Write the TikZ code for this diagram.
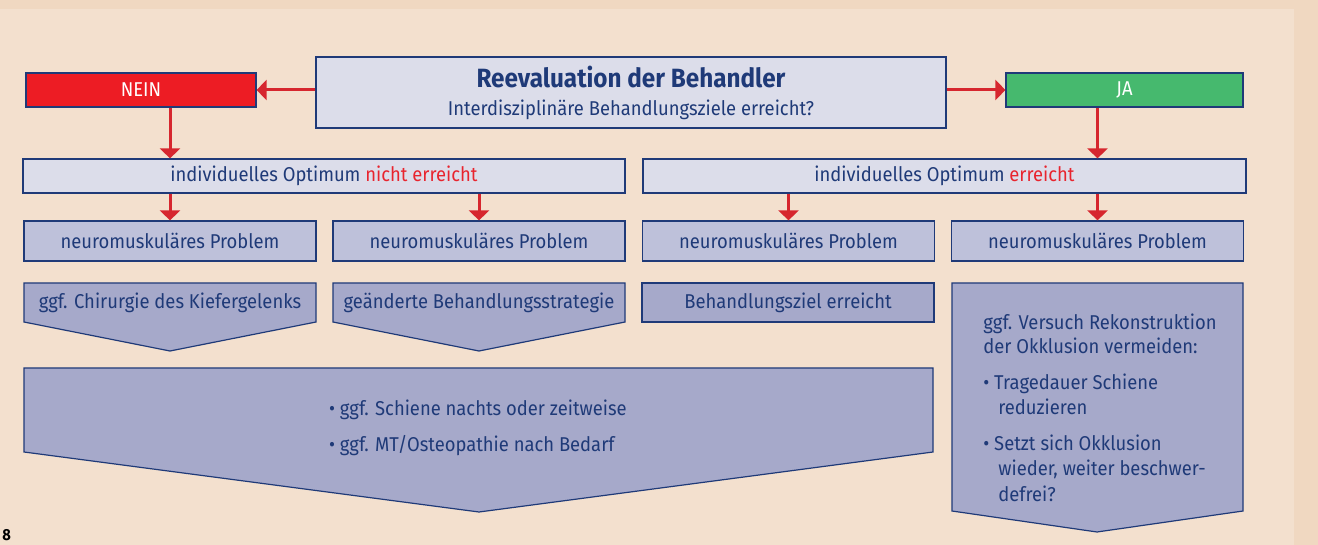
\documentclass[tikz,border=0pt]{standalone}
\usepackage{fontspec}
\setmainfont{Fira Sans}[FakeStretch=0.92]
\usetikzlibrary{arrows.meta}
\definecolor{peach}{RGB}{243,224,206}
\definecolor{peachdark}{RGB}{240,216,193}
\definecolor{navy}{RGB}{31,58,120}
\definecolor{lila}{RGB}{220,221,234}
\definecolor{lilamid}{RGB}{190,193,218}
\definecolor{liladark}{RGB}{166,169,202}
\definecolor{rot}{RGB}{237,28,36}
\definecolor{pfeilrot}{RGB}{214,38,46}
\definecolor{textrot}{RGB}{232,36,46}
\definecolor{gruen}{RGB}{70,185,110}
\tikzset{
  box/.style={draw=navy, line width=0.6pt, inner sep=0pt, text=navy},
  hell/.style={box, fill=lila, minimum height=17pt},
  mittel/.style={box, fill=lilamid, minimum width=146pt, minimum height=20pt},
  antwort/.style={box, minimum width=115pt, minimum height=17pt, text=white},
  keil/.style={fill=liladark, draw=navy, line width=0.6pt},
  pfeil/.style={draw=pfeilrot, line width=1.5pt, -{Triangle[length=5pt,width=10pt]}}
}
\begin{document}
\begin{tikzpicture}[x=0.5pt,y=-0.5pt,font=\fontsize{10}{12.5}\selectfont,text=navy]
\clip (0,0) rectangle (1318,545);
% background
\fill [peach] (0,0) rectangle (1318,545);
\fill [peachdark] (0,0) rectangle (1318,9);
\fill [peachdark] (1294,0) rectangle (1318,545);
% top row
\node [hell, minimum width=315pt, minimum height=35.5pt, align=center] (reeval) at (631,92.5)
  {{\fontsize{13.2}{14}\selectfont\bfseries Reevaluation der Behandler}\\[1.5pt]Interdisziplinäre Behandlungsziele erreicht?};
\node [antwort, fill=rot] (nein) at (141,90) {NEIN};
\node [antwort, fill=gruen, minimum width=118.5pt] (ja) at (1124.5,90) {JA};
% optimum
\node [hell, minimum width=301pt] (opt1) at (324,176) {individuelles Optimum \textcolor{textrot}{nicht erreicht}};
\node [hell, minimum width=301.5pt] (opt2) at (944.5,176) {individuelles Optimum \textcolor{textrot}{erreicht}};
% neuromuskulaer
\node [mittel] (neuro1) at (170,241) {neuromuskuläres Problem};
\node [mittel] (neuro2) at (479,241) {neuromuskuläres Problem};
\node [mittel] (neuro3) at (788.5,241) {neuromuskuläres Problem};
\node [mittel] (neuro4) at (1097.5,241) {neuromuskuläres Problem};
% arrows
\draw [pfeil] (reeval.west |- nein.east) -- (nein.east);
\draw [pfeil] (reeval.east |- ja.west) -- (ja.west);
\draw [pfeil] (nein.south -| neuro1) -- (opt1.north -| neuro1);
\draw [pfeil] (ja.south -| neuro4) -- (opt2.north -| neuro4);
\draw [pfeil] (opt1.south -| neuro1) -- (neuro1.north);
\draw [pfeil] (opt1.south -| neuro2) -- (neuro2.north);
\draw [pfeil] (opt2.south -| neuro3) -- (neuro3.north);
\draw [pfeil] (opt2.south -| neuro4) -- (neuro4.north);
% keile
\filldraw [keil] (24,283) -- (316,283) -- (316,322) -- (170,351) -- (24,322) -- cycle;
\filldraw [keil] (333,283) -- (625,283) -- (625,322) -- (479,351) -- (333,322) -- cycle;
\filldraw [keil] (642,283) rectangle (934,322);
\filldraw [keil] (24,368) -- (933,368) -- (933,452) -- (479,512) -- (24,452) -- cycle;
\filldraw [keil] (952,283) -- (1243,283) -- (1243,511) -- (1097,532) -- (952,511) -- cycle;
\node (chir) at (170,303) {ggf. Chirurgie des Kiefergelenks};
\node (strat) at (479,303) {geänderte Behandlungsstrategie};
\node (ziel) at (788,303) {Behandlungsziel erreicht};
\node [anchor=west, align=left] (massn) at (322,428)
  {• ggf. Schiene nachts oder zeitweise\\[5.5pt]• ggf. MT/Osteopathie nach Bedarf};
\node [anchor=north west, align=left, inner sep=0pt] (versuch) at (983,313)
  {ggf. Versuch Rekonstruktion\\der Okklusion vermeiden:\\[5.5pt]
   • Tragedauer Schiene\\\hspace*{0.75em}reduzieren\\[5.5pt]
   • Setzt sich Okklusion\\\hspace*{0.75em}wieder, weiter beschwer-\\\hspace*{0.75em}defrei?};
\node [anchor=north west, inner sep=0pt, text=black, font=\fontsize{8}{9}\selectfont\bfseries] (seite) at (2,529) {8};
\end{tikzpicture}
\end{document}
